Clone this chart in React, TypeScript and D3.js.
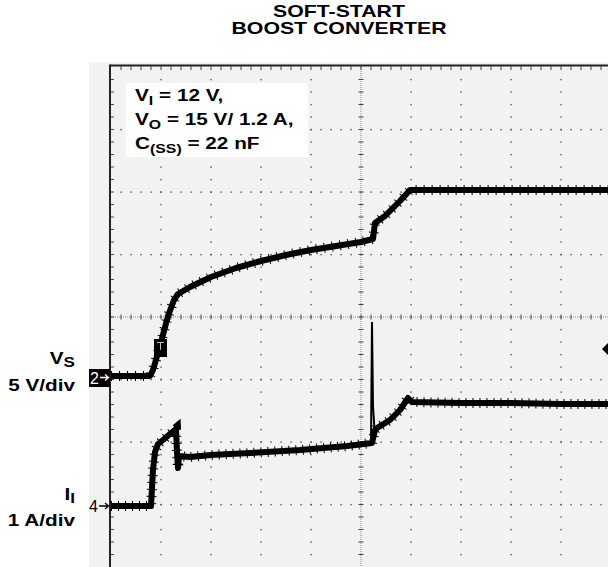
import React from "react";
import * as d3 from "d3";

// ---- data (time in divisions, Vs in volts, Ii in amps) ----
const vsTime = [0, 0.78, 0.84, 0.98, 1.14, 1.26, 1.34, 1.58, 2.0, 2.5, 3.0, 3.5, 4.0, 4.5, 5.0, 5.24, 5.28, 5.48, 5.78, 5.98, 10];
const vsVolts = [0, 0, 0.48, 2.4, 4.8, 6.08, 6.56, 7.12, 7.92, 8.64, 9.2, 9.68, 10.08, 10.4, 10.72, 10.96, 12.24, 12.8, 14.0, 14.88, 14.88];

const iTime = [0, 0.8, 0.84, 0.88, 0.94, 1.04, 1.18, 1.3, 1.32, 1.34, 1.36, 1.58, 2.0, 2.78, 3.78, 4.72, 5.22, 5.28, 5.32, 5.58, 5.78, 5.94, 6.02, 7.0, 8.0, 9.0, 10];
const iAmps = [0, 0, 0.576, 0.864, 0.992, 1.056, 1.152, 1.232, 0.864, 0.608, 0.8, 0.784, 0.816, 0.848, 0.896, 0.96, 1.008, 1.216, 1.248, 1.376, 1.536, 1.728, 1.664, 1.648, 1.648, 1.632, 1.632];

const spikeTime = [5.2, 5.22, 5.24, 5.27];
const spikeAmps = [1.0, 2.944, 1.6, 1.216];

const titleLines = ["SOFT-START", "BOOST CONVERTER"];
const xDivs = 10;
const yDivs = 8;

const W = 608;
const H = 567;
const left = 111;
const top = 67;
const divW = 50;
const divH = 62.5;

const x = d3.scaleLinear().domain([0, xDivs]).range([left, left + xDivs * divW]);
const yDiv = d3.scaleLinear().domain([0, yDivs]).range([top, top + yDivs * divH]);
// Channel 2: ground at 376, 5 V/div
const yV = d3.scaleLinear().domain([0, 5]).range([376, 376 - divH]);
// Channel 4: ground at 506, 1 A/div
const yI = d3.scaleLinear().domain([0, 1]).range([506, 506 - divH]);

const FONT = "'Liberation Sans', Arial, Helvetica, sans-serif";
const SX = 1.22;

function SText(props: any) {
  const { x, y, anchor = "start", size = 17, sx = SX, weight = "bold", fill = "#000", children } = props;
  return (
    <text
      transform={`translate(${x},${y}) scale(${sx},1)`}
      textAnchor={anchor}
      fontSize={size}
      fontWeight={weight}
      fontFamily={FONT}
      fill={fill}
    >
      {children}
    </text>
  );
}

export default function App() {
  const vsLine = d3
    .line<number>()
    .x((_, i) => x(vsTime[i]))
    .y((d) => yV(d));
  const iLine = d3
    .line<number>()
    .x((_, i) => x(iTime[i]))
    .y((d) => yI(d));
  const spLine = d3
    .line<number>()
    .x((_, i) => x(spikeTime[i]))
    .y((d) => yI(d));

  const vsPath = vsLine(vsVolts) || "";
  const iPath = iLine(iAmps) || "";
  const spPath = spLine(spikeAmps) || "";

  const minorX = d3.range(1, xDivs * 5).map((k) => left + k * (divW / 5));
  const minorY = d3.range(1, yDivs * 5).map((k) => top + k * (divH / 5));
  const gridX = d3.range(1, xDivs).map((k) => x(k));
  const gridY = d3.range(1, yDivs).map((k) => yDiv(k));
  const cx = x(xDivs / 2);
  const cy = yDiv(yDivs / 2);

  const dots: JSX.Element[] = [];
  gridY.forEach((gy, gi) => {
    if (Math.abs(gy - cy) < 1) return;
    minorX.forEach((mx, mi) =>
      dots.push(<rect key={`h${gi}-${mi}`} x={mx - 0.6} y={gy - 0.6} width={1.4} height={1.4} fill="#555" />)
    );
  });
  gridX.forEach((gx, gi) => {
    if (Math.abs(gx - cx) < 1) return;
    minorY.forEach((my, mi) =>
      dots.push(<rect key={`v${gi}-${mi}`} x={gx - 0.6} y={my - 0.6} width={1.4} height={1.4} fill="#555" />)
    );
  });

  return (
    <svg
      width={W}
      height={H}
      style={{ position: "absolute", left: 0, top: 0, background: "#fff" }}
    >
      {/* title */}
      {titleLines.map((t, i) => (
        <SText key={t} x={339} y={17 + i * 17} anchor="middle" size={16} sx={1.33}>
          {t}
        </SText>
      ))}

      {/* scope background */}
      <rect x={89} y={62} width={W - 89} height={H - 62} fill="#f2f2f2" />

      {/* grid dots */}
      {dots}

      {/* center lines */}
      <line x1={left} x2={W} y1={cy} y2={cy} stroke="#888" strokeWidth={1} strokeDasharray="1,1" />
      {minorX.map((mx) => (
        <line key={`ct${mx}`} x1={mx} x2={mx} y1={cy - 2.5} y2={cy + 2.5} stroke="#444" strokeWidth={1} />
      ))}
      <line x1={cx} x2={cx} y1={top} y2={H} stroke="#888" strokeWidth={1} strokeDasharray="1,1" />
      {minorY.map((my) => (
        <line key={`cv${my}`} x1={cx - 2.5} x2={cx + 2.5} y1={my} y2={my} stroke="#444" strokeWidth={1} />
      ))}

      {/* frame top and left */}
      <line x1={left - 1} x2={W} y1={65.5} y2={65.5} stroke="#222" strokeWidth={2} />
      {minorX.map((mx) => (
        <line key={`tt${mx}`} x1={mx} x2={mx} y1={66} y2={70} stroke="#444" strokeWidth={1} />
      ))}
      <line x1={left - 1} x2={left - 1} y1={64.5} y2={H} stroke="#222" strokeWidth={2} />
      {minorY.map((my) => (
        <line key={`lt${my}`} x1={left} x2={left + 3} y1={my} y2={my} stroke="#444" strokeWidth={1} />
      ))}

      {/* annotation box */}
      <rect x={126} y={83} width={182} height={74} fill="#fff" />
      <SText x={135} y={101} size={17}>
        <tspan>V</tspan>
        <tspan dy={4} fontSize={13}>I</tspan>
        <tspan dy={-4}>{" = 12 V,"}</tspan>
      </SText>
      <SText x={135} y={125} size={17}>
        <tspan>V</tspan>
        <tspan dy={4} fontSize={13}>O</tspan>
        <tspan dy={-4}>{" = 15 V/ 1.2 A,"}</tspan>
      </SText>
      <SText x={135} y={149} size={17}>
        <tspan>C</tspan>
        <tspan dy={4} fontSize={13}>(SS)</tspan>
        <tspan dy={-4}>{" = 22 nF"}</tspan>
      </SText>

      {/* traces */}
      <path d={vsPath} fill="none" stroke="#000" strokeWidth={6} strokeLinejoin="round" />
      <path d={vsPath} fill="none" stroke="#000" strokeWidth={10} strokeDasharray="1 7" />
      <path d={iPath} fill="none" stroke="#000" strokeWidth={6} strokeLinejoin="round" />
      <path d={iPath} fill="none" stroke="#000" strokeWidth={10} strokeDasharray="1 6" />
      <path d={spPath} fill="none" stroke="#000" strokeWidth={2} />

      {/* trigger marker on Vs */}
      <rect x={154} y={339} width={13} height={18} fill="#000" />
      <path d="M157,342.5 H164 M160.5,342.5 V350" stroke="#bbb" strokeWidth={1} />

      {/* channel markers */}
      <rect x={89} y={369} width={21} height={18} fill="#000" />
      <SText x={90} y={384} size={16} sx={1} weight="normal" fill="#fff">2</SText>
      <path d="M100,377.5 H108 M105,374.5 L108.5,377.5 L105,380.5" stroke="#fff" strokeWidth={1.3} fill="none" />
      <SText x={89} y={512} size={16} sx={1} weight="normal">4</SText>
      <path d="M99,506 H108 M105,503 L108.5,506 L105,509" stroke="#000" strokeWidth={1.3} fill="none" />

      {/* trigger level marker right */}
      <polygon points="602,349 608,343 608,355" fill="#000" />

      {/* channel labels */}
      <SText x={75} y={364} anchor="end" size={17}>
        <tspan>V</tspan>
        <tspan dy={3} fontSize={14}>S</tspan>
      </SText>
      <SText x={75} y={391} anchor="end" size={17}>5 V/div</SText>
      <SText x={75} y={500} anchor="end" size={17}>
        <tspan>I</tspan>
        <tspan dy={3} fontSize={14}>I</tspan>
      </SText>
      <SText x={75} y={526} anchor="end" size={17}>1 A/div</SText>
    </svg>
  );
}
